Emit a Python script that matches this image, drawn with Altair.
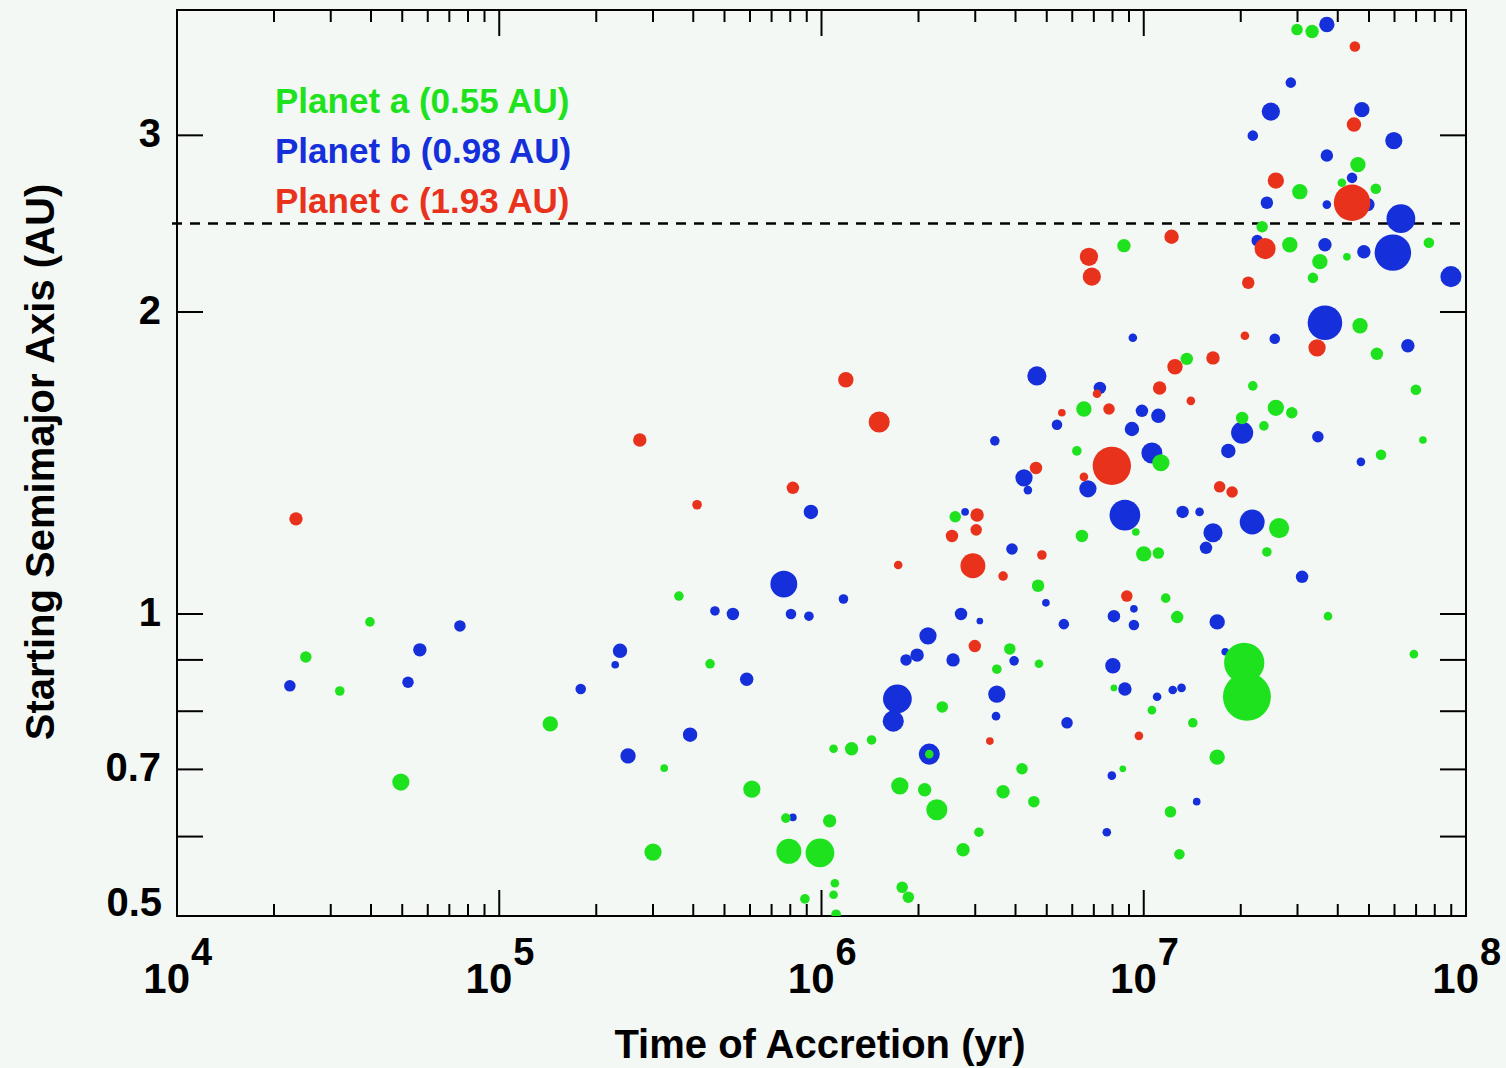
import altair as alt
import pandas as pd

# ---- accreted embryos: time of accretion (yr), starting semimajor axis (AU), relative mass ----
# Planet a (0.55 AU)
a_time = [2.51e4, 3.20e4, 3.97e4, 4.95e4, 3.61e5, 4.51e5, 1.44e5, 3.25e5, 6.08e5, 7.75e5,
          3.00e5, 7.92e5, 9.89e5, 8.88e5, 2.60e6, 2.37e6, 1.09e6, 1.24e6, 1.43e6, 2.16e6,
          1.75e6, 2.09e6, 2.28e6, 1.06e6, 3.08e6, 2.75e6, 1.10e6, 1.09e6, 1.78e6, 1.86e6,
          1.11e6, 6.52e6, 6.20e6, 9.45e6, 1.00e7, 6.43e6, 4.70e6, 3.84e6, 3.50e6, 4.73e6,
          8.08e6, 4.19e6, 8.61e6, 3.66e6, 4.56e6, 8.68e6, 2.33e7, 2.84e7, 1.36e7, 2.18e7,
          2.57e7, 2.88e7, 2.02e7, 2.36e7, 1.13e7, 2.63e7, 2.41e7, 1.11e7, 1.17e7, 1.27e7,
          2.05e7, 2.09e7, 1.06e7, 1.42e7, 1.69e7, 1.21e7, 1.29e7, 2.99e7, 3.33e7, 4.62e7,
          4.12e7, 3.05e7, 5.25e7, 3.52e7, 4.27e7, 7.67e7, 3.35e7, 4.69e7, 5.29e7, 6.99e7,
          7.35e7, 5.45e7, 3.73e7, 6.89e7]
a_axis = [0.906, 0.838, 0.982, 0.680, 1.042, 0.892, 0.777, 0.702, 0.669, 0.626,
          0.579, 0.580, 0.578, 0.520, 1.250, 0.808, 0.734, 0.734, 0.749, 0.725,
          0.674, 0.668, 0.638, 0.622, 0.606, 0.582, 0.539, 0.525, 0.534, 0.522,
          0.502, 1.601, 1.454, 1.207, 1.148, 1.196, 1.067, 0.923, 0.881, 0.892,
          0.844, 0.701, 0.701, 0.665, 0.650, 2.329, 2.432, 2.334, 1.796, 1.688,
          1.605, 1.587, 1.568, 1.540, 1.415, 1.218, 1.153, 1.150, 1.037, 0.993,
          0.894, 0.827, 0.802, 0.779, 0.720, 0.635, 0.576, 3.824, 3.807, 2.805,
          2.691, 2.636, 2.654, 2.245, 2.270, 2.345, 2.163, 1.938, 1.817, 1.673,
          1.491, 1.441, 0.995, 0.912]
a_mass = [1.73, 1.0, 1.0, 5.8, 1.0, 1.0, 4.1, 0.51, 5.8, 1.0,
          5.8, 17.6, 27, 1.0, 1.73, 1.73, 0.73, 2.74, 1.0, 0.73,
          5.8, 2.74, 10.6, 2.74, 1.0, 2.74, 0.73, 0.73, 1.73, 1.73,
          1.0, 4.1, 1.0, 0.51, 4.1, 2.2, 2.2, 1.73, 1.0, 0.73,
          0.34, 1.73, 0.34, 2.74, 1.73, 2.74, 1.73, 4.1, 2.2, 1.0,
          4.9, 1.73, 2.2, 1.0, 5.8, 9.3, 1.0, 1.73, 1.0, 2.2,
          74, 125, 0.73, 1.0, 4.1, 1.73, 1.33, 1.73, 2.74, 4.1,
          0.73, 4.1, 1.33, 4.1, 0.51, 1.33, 1.33, 4.1, 2.2, 1.33,
          0.51, 1.33, 0.73, 0.73]

# Planet b (0.98 AU)
b_time = [2.24e4, 5.21e4, 5.67e4, 7.55e4, 9.27e5, 7.64e5, 4.67e5, 5.31e5, 8.04e5, 9.14e5,
          2.37e5, 2.29e5, 5.86e5, 1.79e5, 3.91e5, 2.51e5, 8.15e5, 3.45e6, 2.79e6, 1.17e6,
          2.71e6, 3.10e6, 2.14e6, 1.98e6, 1.83e6, 2.56e6, 1.72e6, 1.67e6, 3.48e6, 3.50e6,
          2.16e6, 9.25e6, 4.66e6, 7.31e6, 5.38e6, 9.87e6, 9.19e6, 4.25e6, 4.37e6, 6.71e6,
          8.74e6, 3.90e6, 4.97e6, 9.32e6, 8.08e6, 9.32e6, 5.65e6, 3.96e6, 8.02e6, 8.74e6,
          5.78e6, 7.96e6, 7.68e6, 2.86e7, 2.48e7, 2.18e7, 2.41e7, 2.25e7, 2.55e7, 1.11e7,
          2.02e7, 1.83e7, 1.06e7, 1.32e7, 1.49e7, 2.17e7, 1.64e7, 1.56e7, 1.69e7, 1.79e7,
          1.23e7, 1.31e7, 1.10e7, 1.46e7, 3.70e7, 4.75e7, 5.97e7, 3.70e7, 4.43e7, 3.70e7,
          4.96e7, 6.28e7, 3.65e7, 4.82e7, 5.93e7, 8.98e7, 3.65e7, 6.60e7, 3.47e7, 4.72e7,
          3.10e7]
b_axis = [0.848, 0.855, 0.921, 0.973, 1.264, 1.071, 1.007, 1.000, 1.000, 0.995,
          0.919, 0.890, 0.861, 0.842, 0.758, 0.722, 0.627, 1.488, 1.264, 1.035,
          1.000, 0.984, 0.951, 0.910, 0.900, 0.900, 0.823, 0.782, 0.791, 0.832,
          0.725, 1.885, 1.727, 1.680, 1.544, 1.594, 1.529, 1.367, 1.329, 1.333,
          1.255, 1.161, 1.026, 1.012, 0.995, 0.975, 0.977, 0.898, 0.888, 0.842,
          0.779, 0.690, 0.606, 3.386, 3.168, 2.998, 2.570, 2.356, 1.881, 1.576,
          1.516, 1.454, 1.447, 1.264, 1.264, 1.235, 1.205, 1.164, 0.982, 0.917,
          0.840, 0.844, 0.827, 0.650, 3.869, 3.182, 2.964, 2.864, 2.721, 2.559,
          2.559, 2.478, 2.334, 2.297, 2.292, 2.169, 1.951, 1.851, 1.502, 1.418,
          1.089]
b_mass = [1.73, 1.73, 2.74, 1.73, 3.4, 22, 1.0, 2.2, 1.33, 1.0,
          3.4, 0.51, 2.74, 1.33, 3.4, 4.1, 0.51, 1.0, 0.51, 1.0,
          2.2, 0.34, 5.8, 2.74, 1.73, 2.74, 27, 10.6, 0.73, 5.8,
          10.6, 0.73, 8.0, 2.2, 1.33, 2.2, 3.4, 5.8, 0.73, 5.8,
          33, 1.73, 0.51, 0.51, 2.2, 1.33, 1.33, 1.0, 4.1, 2.74,
          1.73, 0.73, 0.73, 1.33, 6.9, 1.33, 2.2, 1.73, 1.33, 3.4,
          12.2, 3.4, 10.6, 2.2, 0.73, 17.6, 8.0, 2.2, 4.1, 0.51,
          0.73, 0.73, 0.73, 0.51, 4.1, 4.1, 5.8, 2.2, 1.33, 0.73,
          2.74, 27, 2.74, 2.74, 55, 10.6, 47, 2.74, 1.73, 0.73,
          2.2]

# Planet c (1.93 AU)
c_time = [2.34e4, 2.73e5, 4.11e5, 8.15e5, 1.19e6, 1.51e6, 3.04e6, 3.02e6, 2.54e6, 2.95e6,
          1.73e6, 2.99e6, 3.33e6, 7.16e6, 5.57e6, 7.80e6, 7.96e6, 4.63e6, 6.52e6, 4.83e6,
          3.66e6, 8.86e6, 9.66e6, 6.76e6, 6.90e6, 2.57e7, 1.22e7, 2.38e7, 2.11e7, 2.06e7,
          1.64e7, 1.25e7, 1.12e7, 1.40e7, 1.72e7, 1.88e7, 4.52e7, 4.49e7, 4.43e7, 3.45e7]
c_axis = [1.244, 1.491, 1.285, 1.336, 1.712, 1.554, 1.255, 1.213, 1.196, 1.117,
          1.119, 0.929, 0.747, 1.658, 1.587, 1.601, 1.405, 1.398, 1.370, 1.145,
          1.091, 1.042, 0.756, 2.270, 2.169, 2.704, 2.377, 2.313, 2.139, 1.894,
          1.800, 1.764, 1.680, 1.631, 1.339, 1.323, 3.678, 3.075, 2.570, 1.842]
c_mass = [2.74, 2.74, 1.0, 2.2, 4.1, 10.6, 2.74, 1.73, 2.2, 17.6,
          0.73, 2.2, 0.51, 0.73, 0.51, 1.73, 64, 2.2, 0.73, 1.0,
          1.0, 1.73, 0.73, 6.9, 6.9, 4.9, 3.4, 10.6, 2.2, 0.73,
          2.74, 4.1, 2.74, 0.73, 1.73, 1.73, 1.33, 3.4, 55, 5.8]

legend_labels = ["Planet a (0.55 AU)", "Planet b (0.98 AU)", "Planet c (1.93 AU)"]
boundary_au = 2.45

# axis tick positions / labels
x_major = [1e4, 1e5, 1e6, 1e7, 1e8]
x_exp = ["4", "5", "6", "7", "8"]
x_minor = [k * 10.0 ** n for n in range(4, 8) for k in range(2, 10)]
y_ticks = [0.5, 0.6, 0.7, 0.8, 0.9, 1, 2, 3]
y_labels = ["0.7", "1", "2", "3"]
y_label_vals = [0.7, 1, 2, 3]

GREEN, BLUE, RED = "#1fe21f", "#1530da", "#e8321c"
BG = "#f4f8f5"
FONT = "Liberation Sans"
W, H = 1289, 906

xs = alt.Scale(type="log", domain=[1e4, 1e8], nice=False)
ys = alt.Scale(type="log", domain=[0.5, 4], nice=False)
ss = alt.Scale(type="pow", exponent=2 / 3, domain=[0, 125], range=[0, 2300])


def planet_layer(t, a, m, color):
    df = pd.DataFrame({"t": t, "a": a, "m": m})
    return alt.Chart(df).mark_circle(color=color, opacity=1, clip=True).encode(
        x=alt.X("t:Q", scale=xs, axis=None),
        y=alt.Y("a:Q", scale=ys, axis=None),
        size=alt.Size("m:Q", scale=ss, legend=None),
    )


pts_b = planet_layer(b_time, b_axis, b_mass, BLUE)
pts_a = planet_layer(a_time, a_axis, a_mass, GREEN)
pts_c = planet_layer(c_time, c_axis, c_mass, RED)

dashed = alt.Chart(pd.DataFrame({"a": [boundary_au]})).mark_rule(
    color="black", strokeWidth=2.5, strokeDash=[10, 8]
).encode(y=alt.Y("a:Q", scale=ys, axis=None), x=alt.value(-5), x2=alt.value(W))

# inward ticks on all four sides
xmaj = pd.DataFrame({"v": x_major, "base": ["10"] * 5, "exp": x_exp})
xmin = pd.DataFrame({"v": x_minor})
yt = pd.DataFrame({"v": y_ticks})


def xtick(df, y0, y1):
    return alt.Chart(df).mark_rule(color="black", strokeWidth=2).encode(
        x=alt.X("v:Q", scale=xs, axis=None), y=alt.value(y0), y2=alt.value(y1))


def ytick(df, x0, x1):
    return alt.Chart(df).mark_rule(color="black", strokeWidth=2).encode(
        y=alt.Y("v:Q", scale=ys, axis=None), x=alt.value(x0), x2=alt.value(x1))


ticks = [
    xtick(xmaj, H, H - 26), xtick(xmaj, 0, 26),
    xtick(xmin, H, H - 12), xtick(xmin, 0, 12),
    ytick(yt, 0, 26), ytick(yt, W - 26, W),
]

# tick labels
xlab_base = alt.Chart(xmaj).mark_text(
    align="right", baseline="alphabetic", dx=13, fontSize=42, fontWeight="bold", font=FONT, color="black"
).encode(x=alt.X("v:Q", scale=xs, axis=None), y=alt.value(983), text="base:N")
xlab_exp = alt.Chart(xmaj).mark_text(
    align="left", baseline="alphabetic", dx=14, fontSize=38, fontWeight="bold", font=FONT, color="black"
).encode(x=alt.X("v:Q", scale=xs, axis=None), y=alt.value(955), text="exp:N")

ylab = alt.Chart(pd.DataFrame({"v": y_label_vals, "lab": y_labels})).mark_text(
    align="right", baseline="middle", dx=-16, fontSize=40, fontWeight="bold", font=FONT, color="black"
).encode(y=alt.Y("v:Q", scale=ys, axis=None), x=alt.value(0), text="lab:N")
ylab_bottom = alt.Chart(pd.DataFrame({"v": [0.5], "lab": ["0.5"]})).mark_text(
    align="right", baseline="alphabetic", dx=-15, fontSize=40, fontWeight="bold", font=FONT, color="black"
).encode(y=alt.Y("v:Q", scale=ys, axis=None), x=alt.value(0), text="lab:N")

# axis titles
xtitle = alt.Chart(pd.DataFrame({"s": ["Time of Accretion (yr)"]})).mark_text(
    align="center", baseline="alphabetic", fontSize=40, fontWeight="bold", font=FONT, color="black"
).encode(x=alt.value(643), y=alt.value(1048), text="s:N")
ytitle = alt.Chart(pd.DataFrame({"s": ["Starting Semimajor Axis (AU)"]})).mark_text(
    align="center", baseline="alphabetic", angle=270, fontSize=40, fontWeight="bold", font=FONT, color="black"
).encode(x=alt.value(-123), y=alt.value(452), text="s:N")

# planet key, one line per planet
key = alt.Chart(pd.DataFrame({"s": legend_labels, "row": [0, 1, 2]})).mark_text(
    align="left", baseline="alphabetic", fontSize=35, fontWeight="bold", font=FONT
).encode(
    x=alt.value(98),
    y=alt.Y("row:Q", scale=alt.Scale(domain=[0, 2], range=[103, 203]), axis=None),
    text="s:N",
    color=alt.Color("s:N", scale=alt.Scale(domain=legend_labels, range=[GREEN, BLUE, RED]), legend=None),
)

chart = alt.layer(
    dashed, pts_b, pts_a, pts_c, *ticks, xlab_base, xlab_exp, ylab, ylab_bottom, xtitle, ytitle, key
).resolve_scale(y="independent").properties(
    width=W, height=H,
    padding={"left": 177, "top": 10, "right": 40, "bottom": 152},
    autosize=alt.AutoSizeParams(type="none"),
    background=BG,
).configure_view(stroke="black", strokeWidth=2, fill=BG)

chart.save("out.html", embed_options={"renderer": "svg", "actions": False})
